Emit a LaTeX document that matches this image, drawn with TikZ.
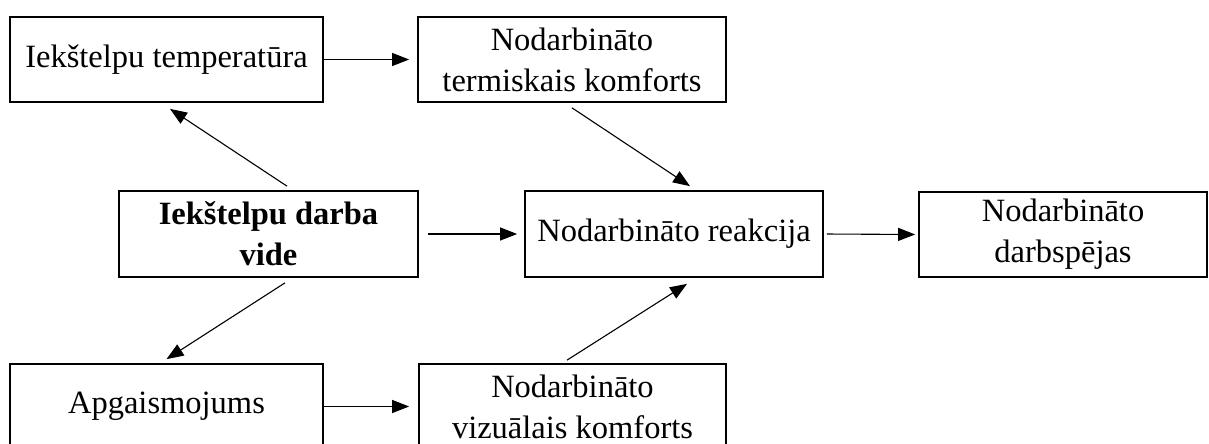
\documentclass[tikz,border=0pt]{standalone}
\usepackage{fontspec}
\setmainfont{Liberation Serif}
\usetikzlibrary{arrows.meta,calc}
\tikzset{
  box/.style={draw, line width=1.7pt, rectangle, inner sep=0pt, align=center,
    font=\fontsize{32.5}{41}\selectfont},
  arr/.style={line width=1.1pt, -{Triangle[length=17pt,width=13pt]}}
}
\begin{document}
\begin{tikzpicture}[x=1pt,y=-1pt]
\useasboundingbox (0,0) rectangle (1209,444);
\clip (0,0) rectangle (1209,444);
\node[box, minimum width=313pt, minimum height=85pt] (b1) at (166.5,59.5) {Iekštelpu temperatūra};
\node[box, minimum width=308pt, minimum height=85pt] (b2) at (572,59.5) {Nodarbināto\\termiskais komforts};
\node[box, minimum width=299pt, minimum height=86pt] (b3) at (268.5,234) {\textbf{Iekštelpu darba}\\\textbf{vide}};
\node[box, minimum width=298pt, minimum height=86pt] (b4) at (674,234) {Nodarbināto reakcija};
\node[box, minimum width=288pt, minimum height=85pt] (b5) at (1063,234.5) {Nodarbināto\\darbspējas};
\node[box, minimum width=313pt, minimum height=85pt] (b6) at (166.5,406.5) {Apgaismojums};
\node[box, minimum width=307pt, minimum height=85pt] (b7) at (572.5,406.5) {Nodarbināto\\vizuālais komforts};
\draw[arr, shorten >=8pt] (b1.east) -- (b2.west);
\draw[arr, shorten <=9pt, shorten >=7pt] (b3.east) -- (b4.west);
\draw[arr, shorten <=3pt, shorten >=3pt] (b4.east) -- (b5.west);
\draw[arr, shorten >=9pt] (b6.east) -- (b7.west);
\draw[arr] ($(b3.north)+(18.5,-4)$) -- ($(b1.south)+(3.5,6)$);
\draw[arr] ($(b2.south)+(0,5)$) -- ($(b4.north)+(16,-4)$);
\draw[arr] ($(b7.north)+(-5.5,-3)$) -- ($(b4.south)+(13,6)$);
\draw[arr] ($(b3.south)+(16.5,5)$) -- ($(b6.north)+(0,-4)$);
\end{tikzpicture}
\end{document}
